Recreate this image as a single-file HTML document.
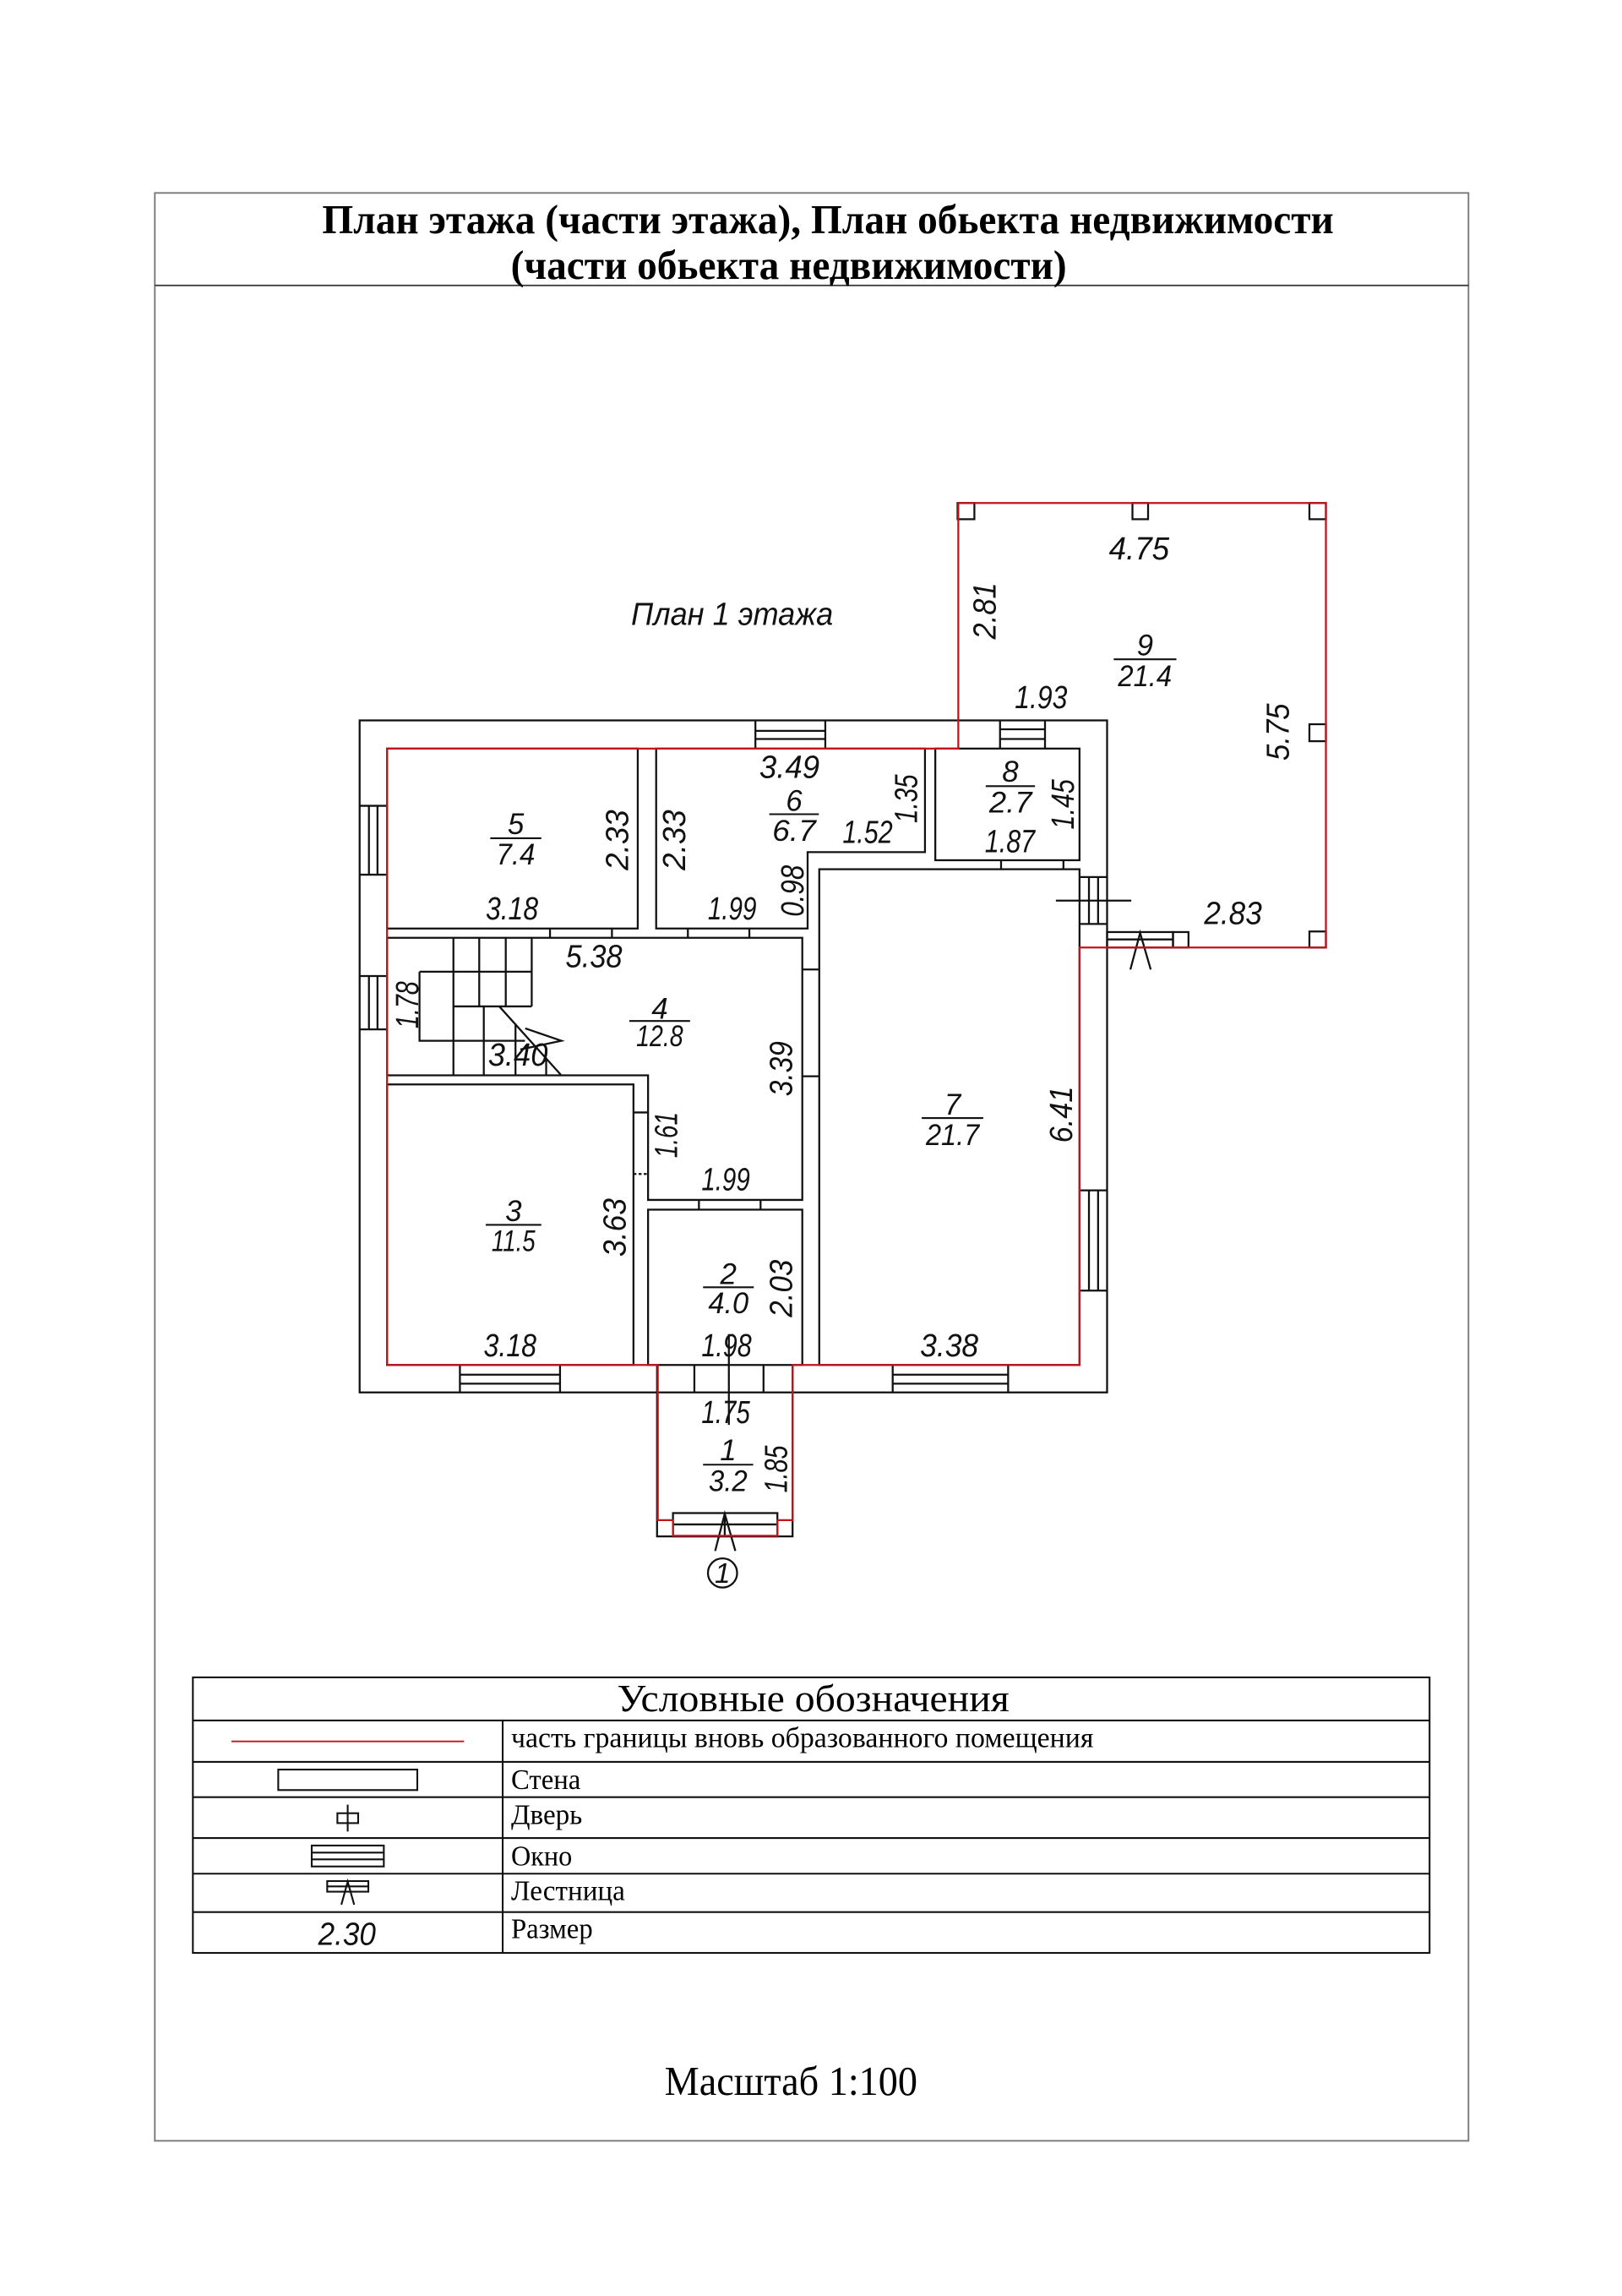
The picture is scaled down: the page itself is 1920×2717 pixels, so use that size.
<!DOCTYPE html>
<html><head><meta charset="utf-8"><style>
html,body{margin:0;padding:0;background:#fff;}
svg{display:block;}
.d{font-family:"Liberation Sans",sans-serif;font-style:italic;font-size:21.5px;fill:#111;}
.f{font-family:"Liberation Sans",sans-serif;font-style:italic;font-size:20px;fill:#111;}
.s{font-family:"Liberation Serif",serif;fill:#000;}
</style></head><body>
<svg width="1920" height="2717" viewBox="0 0 1100 1556.6" xmlns="http://www.w3.org/2000/svg">
<rect x="0" y="0" width="1100" height="1556.6" fill="#fff"/>
<!-- frame -->
<rect x="105" y="130.8" width="890.9" height="1320.6" fill="none" stroke="#7a7a7a" stroke-width="1.1"/>
<line x1="105" y1="193.5" x2="995.9" y2="193.5" stroke="#333" stroke-width="1"/>
<text class="s" x="218.5" y="158" font-size="28" font-weight="bold" textLength="686" lengthAdjust="spacingAndGlyphs">План этажа (части этажа), План обьекта недвижимости</text>
<text class="s" x="346.4" y="189" font-size="28" font-weight="bold" textLength="377" lengthAdjust="spacingAndGlyphs">(части обьекта недвижимости)</text>

<text class="d" x="428" y="423.6" textLength="137" lengthAdjust="spacingAndGlyphs">План 1 этажа</text>

<g fill="none" stroke="#111" stroke-width="1.3">
<!-- outer walls -->
<rect x="243.9" y="488.4" width="506.9" height="455.6"/>
<!-- room 5 -->
<rect x="262.5" y="507.5" width="170" height="122"/>
<!-- room 6 -->
<polygon points="445,507.5 627.3,507.5 627.3,577.7 547.7,577.7 547.7,629.5 445,629.5"/>
<!-- room 8 -->
<rect x="634.3" y="507.5" width="97.8" height="75.7"/>
<!-- room 7 -->
<rect x="555.6" y="589.3" width="176.5" height="336.1"/>
<!-- room 4 -->
<polygon points="262.5,635.8 544.1,635.8 544.1,813.5 439.5,813.5 439.5,729 262.5,729"/>
<!-- room 3 -->
<rect x="262.5" y="735.2" width="167.1" height="190.2"/>
<!-- room 2 -->
<rect x="439.5" y="820.1" width="104.6" height="105.3"/>
<!-- door ticks -->
<line x1="373" y1="629.5" x2="373" y2="635.8"/><line x1="415" y1="629.5" x2="415" y2="635.8"/>
<line x1="466.5" y1="629.5" x2="466.5" y2="635.8"/><line x1="508.2" y1="629.5" x2="508.2" y2="635.8"/>
<line x1="678.9" y1="583.2" x2="678.9" y2="589.3"/><line x1="721.2" y1="583.2" x2="721.2" y2="589.3"/>
<line x1="544.1" y1="657.3" x2="555.6" y2="657.3"/><line x1="544.1" y1="729.7" x2="555.6" y2="729.7"/>
<line x1="429.6" y1="754.2" x2="439.5" y2="754.2"/><line x1="429.6" y1="795.9" x2="439.5" y2="795.9" stroke-dasharray="2,1.5"/>
<line x1="474" y1="813.5" x2="474" y2="820.1"/><line x1="515.8" y1="813.5" x2="515.8" y2="820.1"/>
<!-- windows top -->
<line x1="512.3" y1="488.4" x2="512.3" y2="507.5"/><line x1="559.7" y1="488.4" x2="559.7" y2="507.5"/>
<line x1="512.3" y1="495.5" x2="559.7" y2="495.5"/><line x1="512.3" y1="501" x2="559.7" y2="501"/>
<line x1="678.2" y1="488.4" x2="678.2" y2="507.5"/><line x1="708.7" y1="488.4" x2="708.7" y2="507.5"/>
<line x1="678.2" y1="494.4" x2="708.7" y2="494.4"/><line x1="678.2" y1="501" x2="708.7" y2="501"/>
<!-- windows left -->
<line x1="243.9" y1="546.3" x2="262.5" y2="546.3"/><line x1="243.9" y1="593" x2="262.5" y2="593"/>
<line x1="250.2" y1="546.3" x2="250.2" y2="593"/><line x1="256" y1="546.3" x2="256" y2="593"/>
<line x1="243.9" y1="661.7" x2="262.5" y2="661.7"/><line x1="243.9" y1="697.9" x2="262.5" y2="697.9"/>
<line x1="250.2" y1="661.7" x2="250.2" y2="697.9"/><line x1="256" y1="661.7" x2="256" y2="697.9"/>
<!-- windows right -->
<line x1="732.1" y1="594.6" x2="750.8" y2="594.6"/><line x1="732.1" y1="626.4" x2="750.8" y2="626.4"/>
<line x1="738.5" y1="594.6" x2="738.5" y2="626.4"/><line x1="744.7" y1="594.6" x2="744.7" y2="626.4"/>
<line x1="716.1" y1="610.6" x2="767.2" y2="610.6"/>
<line x1="732.1" y1="807" x2="750.8" y2="807"/><line x1="732.1" y1="875" x2="750.8" y2="875"/>
<line x1="738.5" y1="807" x2="738.5" y2="875"/><line x1="744.7" y1="807" x2="744.7" y2="875"/>
<!-- windows bottom -->
<line x1="311.9" y1="925.4" x2="311.9" y2="944"/><line x1="379.8" y1="925.4" x2="379.8" y2="944"/>
<line x1="311.9" y1="932" x2="379.8" y2="932"/><line x1="311.9" y1="938.1" x2="379.8" y2="938.1"/>
<line x1="605.4" y1="925.4" x2="605.4" y2="944"/><line x1="683.7" y1="925.4" x2="683.7" y2="944"/>
<line x1="605.4" y1="932" x2="683.7" y2="932"/><line x1="605.4" y1="938.1" x2="683.7" y2="938.1"/>
<!-- entrance door frame -->
<line x1="445.6" y1="925.4" x2="445.6" y2="944"/><line x1="470.9" y1="925.4" x2="470.9" y2="944"/>
<line x1="517.8" y1="925.4" x2="517.8" y2="944"/><line x1="537.5" y1="925.4" x2="537.5" y2="944"/>
<line x1="494.3" y1="904.5" x2="494.3" y2="966"/>
<!-- porch room 1 -->
<polyline points="445.6,944 445.6,1041.6 537.5,1041.6 537.5,944"/>
<rect x="456.4" y="1025.8" width="70.8" height="15.8"/>
<line x1="456.4" y1="1033.5" x2="527.2" y2="1033.5"/>
<polyline points="485,1051.5 491.5,1026.3 498.7,1051.5"/>
<line x1="491.5" y1="1026.3" x2="491.5" y2="1041.6"/>
<circle cx="490" cy="1066.4" r="9.9"/>
<!-- step to room 9 -->
<rect x="750.8" y="631.9" width="44.7" height="10.5"/>
<line x1="750.8" y1="636.9" x2="795.5" y2="636.9"/>
<rect x="795.5" y="631.9" width="10.5" height="10.5"/>
<polyline points="766.6,657.3 773.2,632.5 780.4,657.3"/>
<!-- stairs -->
<line x1="307.5" y1="635.8" x2="307.5" y2="729"/>
<line x1="325" y1="635.8" x2="325" y2="682.3"/>
<line x1="343" y1="635.8" x2="343" y2="682.3"/>
<line x1="360.6" y1="635.8" x2="360.6" y2="682.3"/>
<line x1="284.5" y1="658.8" x2="360.6" y2="658.8"/>
<line x1="307.5" y1="682.3" x2="360.6" y2="682.3"/>
<polyline points="284.5,658.8 284.5,705.6 356,705.6"/>
<line x1="328.1" y1="682.3" x2="328.1" y2="729"/>
<line x1="349.6" y1="694" x2="349.6" y2="729"/>
<line x1="370.4" y1="717" x2="370.4" y2="729"/>
<line x1="338.6" y1="682.3" x2="380.3" y2="728.6"/>
<polyline points="356.2,697.2 380.7,705.6 352.9,711.5"/>
<!-- room 9 pillars -->
<rect x="649.4" y="341" width="11.4" height="11"/>
<rect x="768" y="341" width="10.6" height="11"/>
<rect x="888" y="341" width="11.2" height="11"/>
<rect x="888" y="491" width="11.2" height="11.5"/>
<rect x="888" y="631.5" width="11.2" height="10.9"/>
</g>

<!-- red boundary -->
<g fill="none" stroke="#c0141c" stroke-width="1.3">
<polyline points="262.5,925.4 262.5,507.5 649.9,507.5 649.9,341 899.2,341 899.2,642.4 732.1,642.4 732.1,925.4 537.5,925.4 537.5,1030.6 527.2,1030.6 527.2,1041.2 456.4,1041.2 456.4,1030.6 446.1,1030.6 446.1,925.4 262.5,925.4"/>
</g>

<!-- room labels -->
<g class="f" text-anchor="middle">
<text x="349.8" y="565.6">5</text><text x="538.5" y="549.6">6</text><text x="685.2" y="529.9">8</text>
<text x="776.5" y="444.4">9</text><text x="447.4" y="690.6">4</text><text x="646" y="755.8">7</text>
<text x="348.2" y="827.8">3</text><text x="494" y="870.6">2</text><text x="493.8" y="990">1</text>
</g>
<g class="f">
<text x="336.6" y="586" textLength="26.3" lengthAdjust="spacingAndGlyphs">7.4</text>
<text x="523.7" y="570" textLength="29.6" lengthAdjust="spacingAndGlyphs">6.7</text>
<text x="670.8" y="551" textLength="29" lengthAdjust="spacingAndGlyphs">2.7</text>
<text x="758.2" y="465.3" textLength="36.5" lengthAdjust="spacingAndGlyphs">21.4</text>
<text x="431.5" y="709.3" textLength="31.8" lengthAdjust="spacingAndGlyphs">12.8</text>
<text x="627.9" y="776.2" textLength="36.2" lengthAdjust="spacingAndGlyphs">21.7</text>
<text x="333.4" y="848.2" textLength="29.6" lengthAdjust="spacingAndGlyphs">11.5</text>
<text x="480.3" y="890.3" textLength="27.4" lengthAdjust="spacingAndGlyphs">4.0</text>
<text x="480.6" y="1011" textLength="26.3" lengthAdjust="spacingAndGlyphs">3.2</text>
<text x="490" y="1073.2" font-size="19" text-anchor="middle">1</text>
</g>
<g stroke="#111" stroke-width="1.2">
<line x1="332.5" y1="568.3" x2="367.1" y2="568.3"/>
<line x1="521.7" y1="552" x2="555.3" y2="552"/>
<line x1="668.5" y1="533" x2="701.9" y2="533"/>
<line x1="755.3" y1="447" x2="797.8" y2="447"/>
<line x1="426.8" y1="692.2" x2="468" y2="692.2"/>
<line x1="625.1" y1="758" x2="666.8" y2="758"/>
<line x1="329.4" y1="830.4" x2="367.1" y2="830.4"/>
<line x1="476.8" y1="872.7" x2="511.2" y2="872.7"/>
<line x1="476.8" y1="993" x2="510.8" y2="993"/>
</g>

<!-- horizontal dimensions -->
<g class="d">
<text x="329.4" y="623.3" textLength="35.6" lengthAdjust="spacingAndGlyphs">3.18</text>
<text x="480" y="623.3" textLength="33" lengthAdjust="spacingAndGlyphs">1.99</text>
<text x="515" y="527.3" textLength="40.8" lengthAdjust="spacingAndGlyphs">3.49</text>
<text x="571.4" y="571.5" textLength="34" lengthAdjust="spacingAndGlyphs">1.52</text>
<text x="667.9" y="577.7" textLength="34" lengthAdjust="spacingAndGlyphs">1.87</text>
<text x="383.6" y="655.6" textLength="38.4" lengthAdjust="spacingAndGlyphs">5.38</text>
<text x="331" y="722.4" textLength="40.5" lengthAdjust="spacingAndGlyphs">3.40</text>
<text x="475.7" y="806.9" textLength="32.9" lengthAdjust="spacingAndGlyphs">1.99</text>
<text x="328" y="919.5" textLength="35.8" lengthAdjust="spacingAndGlyphs">3.18</text>
<text x="475.7" y="919.5" textLength="34" lengthAdjust="spacingAndGlyphs">1.98</text>
<text x="624" y="919.5" textLength="39.5" lengthAdjust="spacingAndGlyphs">3.38</text>
<text x="475.7" y="964.9" textLength="32.9" lengthAdjust="spacingAndGlyphs">1.75</text>
<text x="816.6" y="626.4" textLength="39.2" lengthAdjust="spacingAndGlyphs">2.83</text>
<text x="752" y="379.3" textLength="41" lengthAdjust="spacingAndGlyphs">4.75</text>
<text x="688.2" y="480" textLength="35.6" lengthAdjust="spacingAndGlyphs">1.93</text>
</g>
<!-- vertical dimensions -->
<g class="d">
<text transform="translate(425.9,569.5) rotate(-90)" x="-20.5" y="0" textLength="41" lengthAdjust="spacingAndGlyphs">2.33</text>
<text transform="translate(464.7,569.5) rotate(-90)" x="-20.5" y="0" textLength="41" lengthAdjust="spacingAndGlyphs">2.33</text>
<text transform="translate(544.8,604) rotate(-90)" x="-17.5" y="0" textLength="35" lengthAdjust="spacingAndGlyphs">0.98</text>
<text transform="translate(621.9,541.5) rotate(-90)" x="-16.5" y="0" textLength="33" lengthAdjust="spacingAndGlyphs">1.35</text>
<text transform="translate(728.2,545.3) rotate(-90)" x="-17" y="0" textLength="34" lengthAdjust="spacingAndGlyphs">1.45</text>
<text transform="translate(283.7,681.3) rotate(-90)" x="-16" y="0" textLength="32" lengthAdjust="spacingAndGlyphs">1.78</text>
<text transform="translate(537.1,724.6) rotate(-90)" x="-18.6" y="0" textLength="37.3" lengthAdjust="spacingAndGlyphs">3.39</text>
<text transform="translate(459.3,769.5) rotate(-90)" x="-15.5" y="0" textLength="31" lengthAdjust="spacingAndGlyphs">1.61</text>
<text transform="translate(727.1,755.8) rotate(-90)" x="-19" y="0" textLength="38.3" lengthAdjust="spacingAndGlyphs">6.41</text>
<text transform="translate(424.2,832.2) rotate(-90)" x="-19.8" y="0" textLength="39.6" lengthAdjust="spacingAndGlyphs">3.63</text>
<text transform="translate(537.1,873.5) rotate(-90)" x="-19.5" y="0" textLength="39" lengthAdjust="spacingAndGlyphs">2.03</text>
<text transform="translate(533.8,996) rotate(-90)" x="-16" y="0" textLength="32" lengthAdjust="spacingAndGlyphs">1.85</text>
<text transform="translate(675.3,414.2) rotate(-90)" x="-19.2" y="0" textLength="38.5" lengthAdjust="spacingAndGlyphs">2.81</text>
<text transform="translate(874,496.3) rotate(-90)" x="-19.3" y="0" textLength="38.7" lengthAdjust="spacingAndGlyphs">5.75</text>
</g>

<!-- legend -->
<g fill="none" stroke="#111" stroke-width="1.2">
<rect x="130.8" y="1137.2" width="838.7" height="186.8"/>
<line x1="130.8" y1="1166.4" x2="969.5" y2="1166.4"/>
<line x1="130.8" y1="1194.5" x2="969.5" y2="1194.5"/>
<line x1="130.8" y1="1218.4" x2="969.5" y2="1218.4"/>
<line x1="130.8" y1="1246.1" x2="969.5" y2="1246.1"/>
<line x1="130.8" y1="1270.3" x2="969.5" y2="1270.3"/>
<line x1="130.8" y1="1296.3" x2="969.5" y2="1296.3"/>
<line x1="340.9" y1="1166.4" x2="340.9" y2="1324"/>
<rect x="188.7" y="1199.7" width="94.3" height="13.9"/>
<line x1="235.8" y1="1223.5" x2="235.8" y2="1241.7"/>
<rect x="228.8" y="1229.3" width="14.1" height="6.7"/>
<rect x="211.4" y="1251.2" width="48.9" height="14.2"/>
<line x1="211.4" y1="1256" x2="260.3" y2="1256"/>
<line x1="211.4" y1="1260.6" x2="260.3" y2="1260.6"/>
<rect x="221.9" y="1275.3" width="27.9" height="7.2"/>
<line x1="221.9" y1="1278.9" x2="249.8" y2="1278.9"/>
<polyline points="231.5,1291.3 235.8,1275.7 240.2,1291.3"/>
</g>
<line x1="157" y1="1180.6" x2="314.7" y2="1180.6" stroke="#c0141c" stroke-width="1.1"/>
<text class="d" x="215.8" y="1318.6" font-size="22" textLength="39.1" lengthAdjust="spacingAndGlyphs">2.30</text>
<text class="s" x="418.5" y="1160.1" font-size="26" textLength="266" lengthAdjust="spacingAndGlyphs">Условные обозначения</text>
<g class="s" font-size="19.5">
<text x="346.6" y="1184.4" textLength="395" lengthAdjust="spacingAndGlyphs">часть границы вновь образованного помещения</text>
<text x="346.6" y="1213" textLength="47.2" lengthAdjust="spacingAndGlyphs">Стена</text>
<text x="346.6" y="1236.5" textLength="48.3" lengthAdjust="spacingAndGlyphs">Дверь</text>
<text x="346.6" y="1264.6" textLength="41.4" lengthAdjust="spacingAndGlyphs">Окно</text>
<text x="346.6" y="1288.1" textLength="77.3" lengthAdjust="spacingAndGlyphs">Лестница</text>
<text x="346.6" y="1313.9" textLength="55.4" lengthAdjust="spacingAndGlyphs">Размер</text>
</g>
<text class="s" x="450.7" y="1420.4" font-size="28" textLength="171.5" lengthAdjust="spacingAndGlyphs">Масштаб 1:100</text>
</svg>
</body></html>
